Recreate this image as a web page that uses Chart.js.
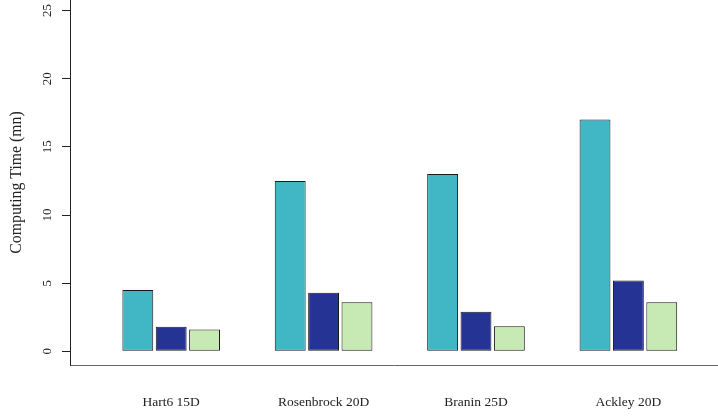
<!DOCTYPE html>
<html>
<head>
<meta charset="utf-8">
<script src="https://cdn.jsdelivr.net/npm/chart.js@4"></script>
<style>
  html, body { margin: 0; padding: 0; background: #fff; }
  #wrap { width: 718px; height: 418px; }
</style>
</head>
<body>
<div id="wrap"><canvas id="myChart"></canvas></div>
<script>
var categories = ['Hart6 15D', 'Rosenbrock 20D', 'Branin 25D', 'Ackley 20D'];
var seriesA = [4.5, 12.5, 13.0, 17.0];
var seriesB = [1.8, 4.3, 2.9, 5.2];
var seriesC = [1.6, 3.6, 1.85, 3.6];
var yTicks = [0, 5, 10, 15, 20, 25];

var serif = "'Liberation Serif', 'DejaVu Serif', serif";

function toPoints(vals) {
    return vals.map(function (v, i) { return { x: i + 1, y: v }; });
}

function makeSet(vals, color) {
    return {
        data: toPoints(vals),
        backgroundColor: color,
        borderColor: '#1a1a1a',
        borderWidth: 1,
        borderSkipped: false,
        categoryPercentage: 0.657,
        barPercentage: 0.925
    };
}

function loadChart() {
    var ctx = document.getElementById('myChart').getContext('2d');

    new Chart(ctx, {
        type: 'bar',
        data: {
            datasets: [
                makeSet(seriesA, '#41b6c4'),
                makeSet(seriesB, '#253494'),
                makeSet(seriesC, '#c7e9b4')
            ]
        },
        options: {
            responsive: true,
            maintainAspectRatio: false,
            animation: false,
            layout: { padding: 0 },
            plugins: {
                legend: { display: false },
                tooltip: { enabled: false }
            },
            scales: {
                x: {
                    type: 'linear',
                    offset: false,
                    min: 0.336,
                    max: 4.588,
                    afterBuildTicks: function (scale) {
                        scale.ticks = categories.map(function (c, i) { return { value: i + 1 }; });
                    },
                    afterFit: function (scale) {
                        scale.height = 53;
                        scale.paddingLeft = 0;
                        scale.paddingRight = 0;
                    },
                    grid: { display: false, drawTicks: false, offset: false },
                    border: { display: true, color: '#666666', width: 1 },
                    ticks: {
                        autoSkip: false,
                        maxRotation: 0,
                        padding: 29,
                        color: '#222222',
                        font: { family: serif, size: 13.5 },
                        callback: function (v) { return categories[Math.round(v) - 1]; }
                    }
                },
                y: {
                    min: -1.0,
                    max: 25.77,
                    afterBuildTicks: function (scale) {
                        scale.ticks = yTicks.map(function (v) { return { value: v }; });
                    },
                    afterFit: function (scale) {
                        scale.width = 70;
                        scale.paddingTop = 0;
                        scale.paddingBottom = 0;
                    },
                    grid: {
                        display: true,
                        drawOnChartArea: false,
                        drawTicks: true,
                        tickLength: 8,
                        color: '#222222'
                    },
                    border: { display: true, color: '#222222', width: 1 },
                    ticks: {
                        minRotation: 90,
                        maxRotation: 90,
                        crossAlign: 'center',
                        padding: 8,
                        color: '#222222',
                        font: { family: serif, size: 13 }
                    },
                    title: {
                        display: true,
                        text: 'Computing Time (mn)',
                        color: '#222222',
                        padding: { top: 7, bottom: 4 },
                        font: { family: serif, size: 15.8 }
                    }
                }
            }
        }
    });
}

loadChart();
</script>
</body>
</html>
